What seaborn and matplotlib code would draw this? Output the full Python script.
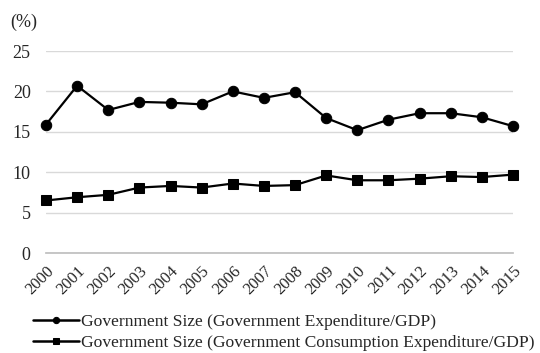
import matplotlib
matplotlib.use("Agg")
import matplotlib.pyplot as plt
import pandas as pd
import seaborn as sns

years = list(range(2000, 2016))
gov_expenditure = [15.9, 20.7, 17.7, 18.7, 18.6, 18.4, 20.0, 19.2, 19.9, 16.7, 15.2, 16.5, 17.3, 17.3, 16.8, 15.7]
gov_consumption = [6.5, 6.9, 7.2, 8.1, 8.3, 8.1, 8.6, 8.3, 8.4, 9.6, 9.0, 9.0, 9.2, 9.5, 9.4, 9.7]
label_exp = "Government Size (Government Expenditure/GDP)"
label_cons = "Government Size (Government Consumption Expenditure/GDP)"

df = pd.DataFrame({"year": years, label_exp: gov_expenditure, label_cons: gov_consumption})
long = df.melt(id_vars="year", var_name="series", value_name="value")

sns.set_theme(style="white")
plt.rcParams["font.family"] = ["Liberation Serif", "DejaVu Serif"]

fig = plt.figure(figsize=(5.4, 3.53), dpi=100)
ax = fig.add_axes([46 / 540, 1 - 253 / 353, (513 - 46) / 540, (253 - 51) / 353])

sns.lineplot(data=long, x="year", y="value", hue="series", style="series",
             markers={label_exp: "o", label_cons: "s"}, dashes=False,
             palette={label_exp: "black", label_cons: "black"},
             markersize=7.5, linewidth=1.6, markeredgecolor="black", ax=ax,
             legend=True, clip_on=False)

ax.set_xlim(2000, 2015)
ax.set_ylim(0, 25)
ax.set_yticks([0, 5, 10, 15, 20, 25])
ax.set_xticks(years)
ax.set_xticklabels([str(y) for y in years], rotation=45, ha="right", rotation_mode="anchor")
ax.tick_params(axis="x", direction="in", length=4, color="#bfbfbf", labelsize=12, pad=7)
ax.tick_params(axis="y", length=0, labelsize=13, pad=11)
ax.yaxis.grid(True, color="#d9d9d9", linewidth=1)
ax.set_axisbelow(True)
for s in ["top", "right", "left"]:
    ax.spines[s].set_visible(False)
ax.spines["bottom"].set_color("#bfbfbf")
ax.set_xlabel("")
ax.set_ylabel("")
for lab in ax.get_yticklabels() + ax.get_xticklabels():
    lab.set_color("#262626")

fig.text(10 / 540, 1 - 22 / 353, "(%)", fontsize=13, va="center", color="#262626")

handles, labels = ax.get_legend_handles_labels()
ax.get_legend().remove()
leg = fig.legend(handles, labels, loc="upper left", bbox_to_anchor=(33 / 540, 1 - 314 / 353),
                 frameon=False, fontsize=12.6, handlelength=2.6, handletextpad=0.15,
                 labelspacing=0.25, borderaxespad=0, borderpad=0)
for h in leg.legend_handles:
    h.set_markersize(4.5)
    h.set_linewidth(1.8)
for t in leg.get_texts():
    t.set_color("#262626")

fig.savefig("out.png", dpi=100)
